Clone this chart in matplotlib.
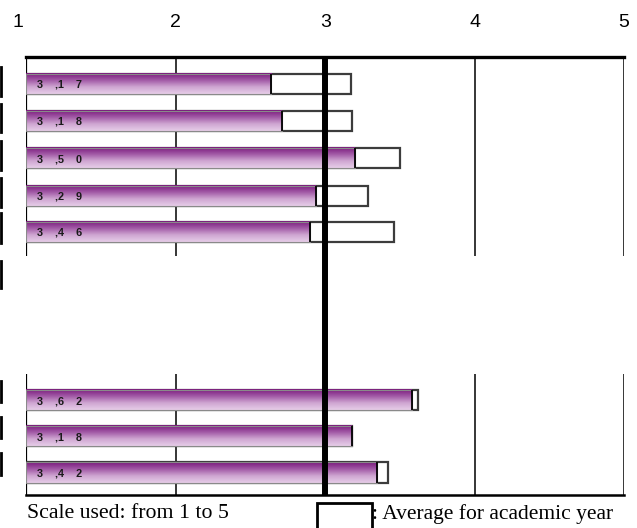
import numpy as np
import matplotlib
matplotlib.use('Agg')
from matplotlib import pyplot as plt
from matplotlib.patches import Rectangle
from matplotlib.colors import LinearSegmentedColormap
from matplotlib.lines import Line2D
from matplotlib.transforms import ScaledTranslation

# data
scores = [2.64, 2.71, 3.20, 2.94, 2.90, 3.58, 3.18, 3.35]      # purple bars
year_avg = [3.17, 3.18, 3.50, 3.29, 3.46, 3.62, 3.18, 3.42]    # white bars
labels = ['3 ,1 7', '3 ,1 8', '3 ,5 0', '3 ,2 9', '3 ,4 6', '3 ,6 2', '3 ,1 8', '3 ,4 2']
ticks = [1, 2, 3, 4, 5]

# layout
ypos = [0, 1, 2.02, 3.04, 4.02, 8.59, 9.57, 10.56]
bar_h = 0.55

fig = plt.figure(figsize=(6.37, 5.28), dpi=100)
ax = fig.add_axes([0.0413, 0.0625, 0.9383, 0.8295])

purple = LinearSegmentedColormap.from_list('pur', ['#7a1a7c', '#a25aa6', '#cfa6d2', '#e6cde8'])
grad = np.linspace(0, 1, 64).reshape(-1, 1)

# broken grid lines at 1, 2, 4, 5
for x in [1, 2, 4, 5]:
    lw = 1.6 if x == 1 else 1.1
    ax.vlines(x, -0.73, 4.67, color='black', lw=lw, zorder=1)
    ax.vlines(x, 7.88, 11.17, color='black', lw=lw, zorder=1)

for y, s, a, lab in zip(ypos, scores, year_avg, labels):
    # white bar = average for academic year
    ax.add_patch(Rectangle((1, y - bar_h / 2), a - 1, bar_h, facecolor='white',
                           edgecolor='#3c3c3c', lw=1.6, zorder=2))
    # gradient purple bar
    ax.imshow(grad, cmap=purple, aspect='auto', extent=(1, s, y + bar_h / 2, y - bar_h / 2),
              zorder=3, interpolation='bilinear')
    ax.add_patch(Rectangle((1, y - bar_h / 2), s - 1, bar_h, facecolor='none',
                           edgecolor='#8a8a8a', lw=0.8, zorder=4))
    ax.vlines(s, y - bar_h / 2, y + bar_h / 2, color='black', lw=1.3, zorder=4)
    ax.text(1.07, y + 0.03, lab.replace(' ', '    '), fontsize=7.8, fontweight='bold',
            color='#1a1a1a', family='Liberation Sans', va='center', ha='left', zorder=5)

ax.set_xlim(1, 5)
ax.set_ylim(11.17, -0.73)

# thick reference line at 3
ax.axvline(3, color='black', lw=4.3, zorder=6)

for side in ['left', 'right']:
    ax.spines[side].set_visible(False)
ax.spines['top'].set_linewidth(2.4)
ax.spines['bottom'].set_linewidth(1.8)

ax.xaxis.tick_top()
ax.set_xticks(ticks)
ax.set_xticklabels([str(t) for t in ticks], family='Liberation Sans', fontsize=14)
ax.tick_params(axis='x', length=0, pad=19)
ax.set_yticks([])
# the first label sits a little left of its grid line
lbl1 = ax.get_xticklabels()[0]
lbl1.set_transform(lbl1.get_transform() + ScaledTranslation(-0.08, 0, fig.dpi_scale_trans))

# cut-off remains of the category labels at the left edge
for y0, y1 in [(67, 96), (104, 132), (141, 170), (178, 207), (213, 243), (261, 288),
               (381, 402), (417, 438), (453, 475)]:
    fig.add_artist(Line2D([1.5 / 637, 1.5 / 637], [1 - y0 / 528, 1 - y1 / 528],
                          color='black', lw=2))

fig.text(27 / 637, 14 / 528, 'Scale used: from 1 to 5', family='Liberation Serif',
         fontsize=15.7, va='center', ha='left')
fig.add_artist(Rectangle((317 / 637, -0.01), 55 / 637, 25 / 528 + 0.01, transform=fig.transFigure,
                         facecolor='white', edgecolor='black', lw=2))
fig.text(372 / 637, 14 / 528, ': Average for academic year', family='Liberation Serif',
         fontsize=15.5, va='center', ha='left')

plt.savefig('out.png', dpi=100)
